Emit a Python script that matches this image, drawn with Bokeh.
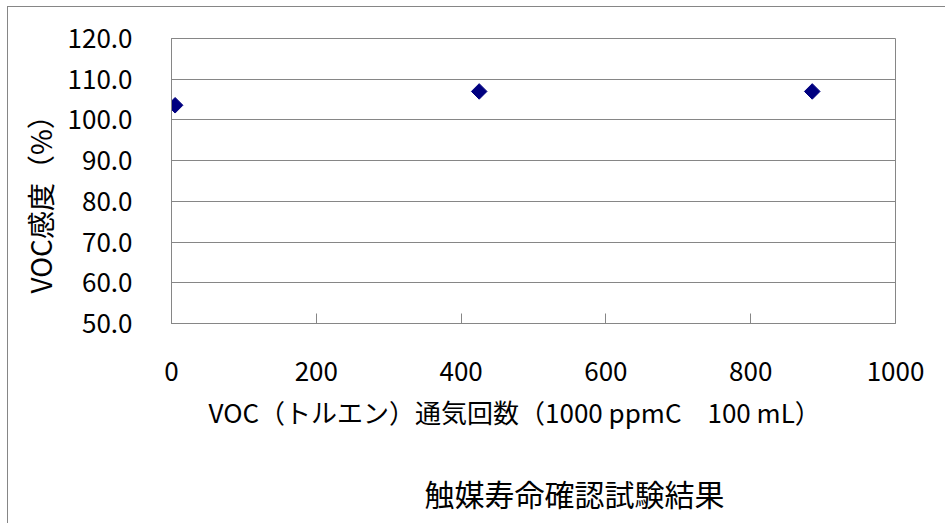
from bokeh.plotting import figure
from bokeh.models import Range1d, FixedTicker, PrintfTickFormatter, Title
from bokeh.embed import file_html
from bokeh.resources import INLINE

# catalyst life test: VOC sensitivity vs. number of toluene gas passes
cycles = [5, 425, 885]
sensitivity = [103.6, 107.0, 107.0]

x_ticks = [0, 200, 400, 600, 800, 1000]
y_ticks = [50, 60, 70, 80, 90, 100, 110, 120]

x_caption = "VOC（トルエン）通気回数（1000 ppmC　100 mL）"
y_caption = "VOC感度（%）"
chart_title = "触媒寿命確認試験結果"

FONT = "Noto Sans CJK JP"
GRAY = "#868686"
NAVY = "#000080"

p = figure(
    width=938, height=517,
    x_range=Range1d(0, 1000), y_range=Range1d(50, 120),
    output_backend="svg", toolbar_location=None,
    title_location=None,
    margin=(6, 0, 0, 7),
    min_border_left=163, min_border_right=51,
    min_border_top=31, min_border_bottom=201,
    background_fill_color="white", border_fill_color="white",
)
# chart-area border (left and top edges show on the page)
p.styles = {"border-left": f"1px solid {GRAY}", "border-top": f"1px solid {GRAY}"}

p.outline_line_color = GRAY
p.outline_line_width = 1

# x axis
xa = p.xaxis[0]
xa.ticker = FixedTicker(ticks=x_ticks)
xa.axis_line_color = GRAY
xa.major_tick_line_color = GRAY
xa.major_tick_in = 10
xa.major_tick_out = 0
xa.minor_tick_line_color = None
xa.major_label_text_font = FONT
xa.major_label_text_font_size = "26px"
xa.major_label_text_color = "black"
xa.major_label_standoff = 38

# y axis
ya = p.yaxis[0]
ya.ticker = FixedTicker(ticks=y_ticks)
ya.formatter = PrintfTickFormatter(format="%.1f")
ya.axis_line_color = GRAY
ya.major_tick_line_color = GRAY
ya.major_tick_in = 8
ya.major_tick_out = 0
ya.minor_tick_line_color = None
ya.major_label_text_font = FONT
ya.major_label_text_font_size = "26px"
ya.major_label_text_color = "black"
ya.major_label_standoff = 39

p.xgrid.visible = False
p.ygrid.ticker = FixedTicker(ticks=y_ticks)
p.ygrid.grid_line_color = GRAY
p.ygrid.grid_line_width = 1

p.scatter(cycles, sensitivity, marker="square", size=11, angle=45, angle_units="deg",
          fill_color=NAVY, line_color=NAVY)

# axis captions
cap_x = Title(text=x_caption, align="left", offset=37, standoff=14,
              text_font=FONT, text_font_size="26px", text_font_style="normal",
              text_color="black")
p.add_layout(cap_x, "below")

cap_y = Title(text=y_caption, align="left", offset=30, standoff=10,
              text_font=FONT, text_font_size="28px", text_font_style="normal",
              text_color="black")
p.add_layout(cap_y, "left")

# blank band between the x caption and the chart title
gap = Title(text=" ", standoff=29, text_font_size="1px")
p.add_layout(gap, "below")

# chart title
main_title = Title(text=chart_title, align="left", offset=253, standoff=0,
                   text_font=FONT, text_font_size="30px", text_font_style="normal",
                   text_color="black")
p.add_layout(main_title, "below")

open("out.html", "w").write(file_html(p, INLINE))
